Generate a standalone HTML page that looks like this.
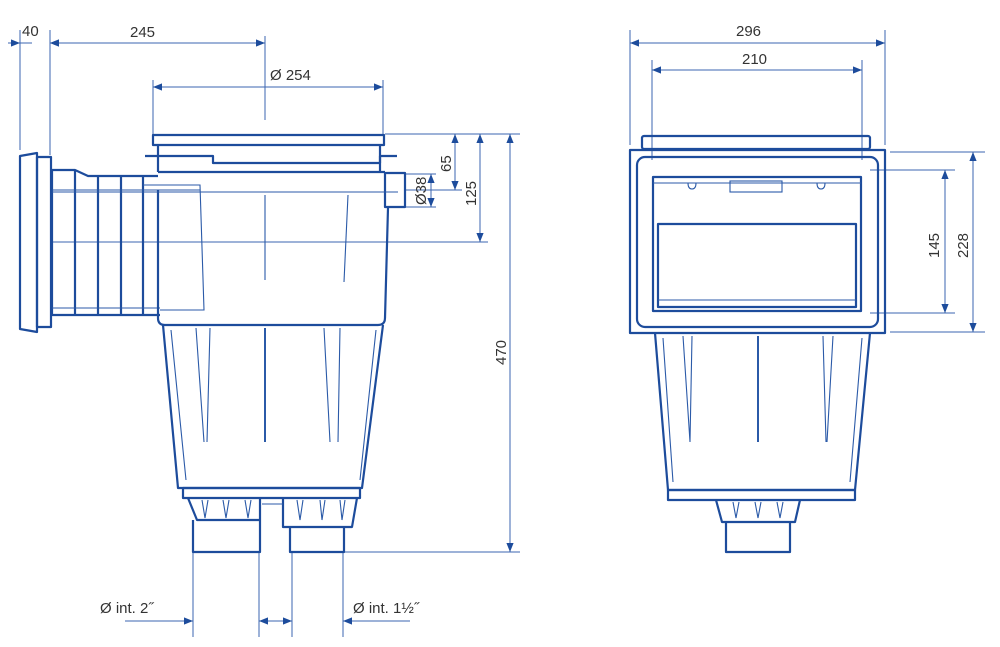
<!DOCTYPE html>
<html><head><meta charset="utf-8"><style>
body{margin:0;background:#fff;}
svg{display:block;}
text{font-family:"Liberation Sans",sans-serif;fill:#333;font-size:15px;}
.b{fill:none;stroke:#1d4c9c;stroke-width:2.2;stroke-linejoin:round;}
.t{fill:none;stroke:#2b5aa8;stroke-width:1.1;}
.d{fill:none;stroke:#3b66b0;stroke-width:1;}
</style></head><body>
<svg width="1000" height="647" viewBox="0 0 1000 647">
<defs>
<marker id="a" viewBox="0 0 10 10" refX="10" refY="5" markerWidth="9" markerHeight="9" orient="auto-start-reverse" markerUnits="userSpaceOnUse"><path d="M0,1 L10,5 L0,9 z" fill="#1d4c9c"/></marker>
</defs>
<g class="d">
<line x1="20" y1="30" x2="20" y2="150"/><line x1="50" y1="30" x2="50" y2="155"/>
<line x1="265" y1="36" x2="265" y2="120"/><line x1="153" y1="80" x2="153" y2="135"/><line x1="383" y1="80" x2="383" y2="135"/>
<line x1="385" y1="134" x2="520" y2="134"/><line x1="405" y1="190" x2="462" y2="190"/><line x1="52" y1="242" x2="488" y2="242"/>
<line x1="345" y1="552" x2="520" y2="552"/>
<line x1="405" y1="174" x2="436" y2="174"/><line x1="405" y1="207" x2="436" y2="207"/>
<line x1="193" y1="552" x2="193" y2="637"/><line x1="259" y1="552" x2="259" y2="637"/>
<line x1="292" y1="552" x2="292" y2="637"/><line x1="343" y1="552" x2="343" y2="637"/>
</g>
<g class="d" marker-start="url(#a)" marker-end="url(#a)">
<line x1="50" y1="43" x2="265" y2="43"/>
<line x1="153" y1="87" x2="383" y2="87"/>
<line x1="455" y1="134" x2="455" y2="190"/>
<line x1="480" y1="134" x2="480" y2="242"/>
<line x1="510" y1="134" x2="510" y2="552"/>
<line x1="431" y1="174" x2="431" y2="207"/>
<line x1="630" y1="43" x2="885" y2="43"/>
<line x1="652" y1="70" x2="862" y2="70"/>
<line x1="973" y1="152" x2="973" y2="332"/>
<line x1="945" y1="170" x2="945" y2="313"/>
<line x1="259" y1="621" x2="292" y2="621"/>
</g>
<g class="d">
<line x1="8" y1="43" x2="20" y2="43" marker-end="url(#a)"/><line x1="62" y1="43" x2="50" y2="43" marker-end="url(#a)"/>
<line x1="125" y1="621" x2="193" y2="621" marker-end="url(#a)"/>
<line x1="410" y1="621" x2="343" y2="621" marker-end="url(#a)"/>
<line x1="20" y1="43" x2="32" y2="43"/>
</g>
<path class="b" d="M20,156 L37,153 L37,332 L20,329 Z"/>
<rect class="b" x="37" y="157" width="14" height="170"/>
<path class="b" d="M52,170 L75,170 L88,176 L158,176 M52,315 L160,315 M52,170 L52,315"/>
<g class="b"><line x1="75" y1="170" x2="75" y2="315"/><line x1="98" y1="176" x2="98" y2="315"/><line x1="121" y1="176" x2="121" y2="315"/><line x1="143" y1="176" x2="143" y2="315"/></g>
<line class="t" x1="52" y1="190" x2="200" y2="190"/><line class="t" x1="52" y1="308" x2="160" y2="308"/>
<path class="t" d="M143,185 L200,185 L204,310 L160,310"/>
<rect class="b" x="153" y="135" width="231" height="10"/>
<path class="b" d="M145,156 L213,156 L213,163 L380,163 L380,156 L397,156"/>
<path class="b" d="M158,145 L158,172 M380,145 L380,172 M158,172 L385,172"/>
<path class="b" d="M158,190 L158,318 Q158,325 165,325 L378,325 Q385,325 385,318 L388,208"/>
<rect class="b" x="385" y="173" width="20" height="34"/>
<line class="t" x1="52" y1="192" x2="398" y2="192"/>
<g class="t"><line x1="265" y1="195" x2="265" y2="280"/><line x1="348" y1="195" x2="344" y2="282"/></g>
<path class="b" d="M163,325 L178,488 L362,488 L383,325"/>
<g class="t"><path d="M196,328 L204,442 M210,328 L207,442"/><path d="M340,328 L338,442 M324,328 L330,442"/><line x1="265" y1="328" x2="265" y2="442" stroke-width="2"/><path d="M171,330 L186,480 M376,330 L360,480"/></g>
<rect class="b" x="183" y="488" width="177" height="10"/>
<path class="b" d="M188,498 L197,520 L260,520 L260,498 M193,520 L193,552 L260,552 L260,520"/>
<path class="b" d="M283,498 L283,527 L352,527 L357,498 M290,527 L290,552 L344,552 L344,527"/>
<g class="t"><path d="M202,500 L205,518 L208,500 M223,500 L226,518 L229,500 M245,500 L248,518 L251,500 M297,500 L300,520 L303,500 M320,500 L322,520 L325,500 M340,500 L342,520 L345,500 M262,504 L283,504"/></g>
<g class="d"><line x1="630" y1="30" x2="630" y2="145"/><line x1="885" y1="30" x2="885" y2="145"/><line x1="652" y1="60" x2="652" y2="160"/><line x1="862" y1="60" x2="862" y2="160"/>
<line x1="890" y1="152" x2="985" y2="152"/><line x1="870" y1="170" x2="955" y2="170"/><line x1="870" y1="313" x2="955" y2="313"/><line x1="890" y1="332" x2="985" y2="332"/></g>
<rect class="b" x="642" y="136" width="228" height="13" rx="2"/>
<rect class="b" x="630" y="150" width="255" height="183"/>
<rect class="b" x="637" y="157" width="241" height="170" rx="8"/>
<rect class="b" x="653" y="177" width="208" height="134"/>
<line class="t" x1="653" y1="183" x2="861" y2="183"/>
<rect class="b" x="658" y="224" width="198" height="83"/>
<line class="t" x1="658" y1="300" x2="856" y2="300"/>
<rect class="t" x="730" y="181" width="52" height="11"/>
<path class="t" d="M688,183 Q688,189 692,189 Q696,189 696,183 M817,183 Q817,189 821,189 Q825,189 825,183"/>
<path class="b" d="M655,333 L668,490 L855,490 L870,333"/>
<g class="t"><path d="M683,336 L690,442 M692,336 L690,442 M823,336 L826,442 M833,336 L827,442"/><line x1="758" y1="336" x2="758" y2="442" stroke-width="2"/><path d="M663,338 L673,482 M862,338 L850,482"/></g>
<rect class="b" x="668" y="490" width="187" height="10"/>
<path class="b" d="M716,500 L722,522 L795,522 L800,500 M726,522 L726,552 L790,552 L790,522"/>
<g class="t"><path d="M733,502 L736,518 L739,502 M755,502 L758,518 L761,502 M777,502 L780,518 L783,502"/></g>
<text x="22" y="36">40</text>
<text x="130" y="37">245</text>
<text x="270" y="80">Ø 254</text>
<text x="736" y="36">296</text>
<text x="742" y="64">210</text>
<text x="100" y="613" font-size="17">Ø int. 2˝</text>
<text x="353" y="613" font-size="17">Ø int. 1½˝</text>
<text transform="translate(451,172) rotate(-90)">65</text>
<text transform="translate(476,206) rotate(-90)">125</text>
<text transform="translate(506,365) rotate(-90)">470</text>
<text transform="translate(426,205) rotate(-90)" font-size="13">Ø38</text>
<text transform="translate(939,258) rotate(-90)">145</text>
<text transform="translate(968,258) rotate(-90)">228</text>
</svg>
</body></html>
